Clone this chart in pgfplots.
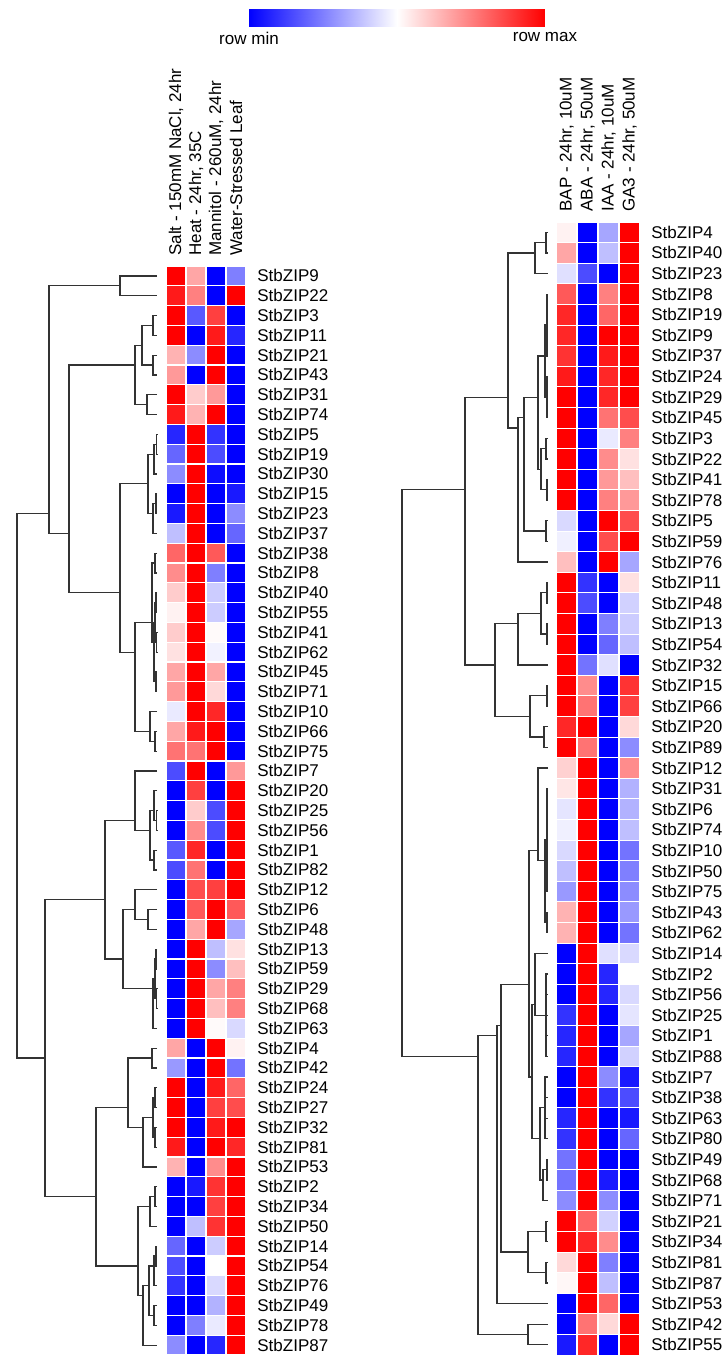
\documentclass[border=0pt]{standalone}
\usepackage{pgfplots}
\usepackage{pgfplotstable}
\pgfplotsset{compat=1.18}
\usepackage{fontspec}
\setmainfont{Liberation Sans}
\pgfplotsset{colormap={bwr}{rgb255=(0,0,255) rgb255=(255,255,255) rgb255=(255,0,0)}}

\pgfplotstableread{
r c1 c2 c3 c4
1 1 0.35 -1 -0.5
2 0.9 0.5 -1 1
3 1 -0.65 0.75 -1
4 1 -1 0.9 -0.85
5 0.3 -0.45 1 -1
6 0.4 -1 1 -1
7 1 0.2 0.4 -1
8 0.9 0.3 1 -1
9 -0.85 1 -0.8 -1
10 -0.6 1 -0.7 -1
11 -0.45 1 -0.95 -1
12 -1 1 -1 -0.9
13 -0.9 1 -1 -0.45
14 -0.25 1 -1 -0.6
15 0.6 1 0.65 -1
16 0.45 1 -0.5 -1
17 0.2 1 -0.2 -1
18 0.05 1 -0.2 -1
19 0.2 1 0.02 -1
20 0.12 1 -0.05 -1
21 0.35 1 0.35 -1
22 0.4 1 0.15 -1
23 -0.08 1 0.85 -1
24 0.35 0.9 1 -1
25 0.55 0.55 1 -1
26 -0.7 1 -1 0.4
27 -1 0.75 -1 1
28 -1 0.2 -0.7 1
29 -1 0.45 -0.7 1
30 -0.65 0.85 -1 1
31 -0.7 0.55 -1 1
32 -1 0.7 0.75 1
33 -1 0.65 1 0.65
34 -1 0.35 1 -0.35
35 -1 1 -0.25 0.12
36 -1 1 -0.45 0.25
37 -1 1 0.35 0.5
38 -1 1 0.25 0.5
39 -1 1 0.02 -0.15
40 0.35 -1 1 0.05
41 -0.4 -1 1 -0.55
42 1 -1 0.9 0.6
43 1 -1 0.75 0.7
44 1 -1 0.9 1
45 0.9 -1 1 0.85
46 0.3 -1 0.45 1
47 -1 -0.9 0.8 1
48 -1 -1 0.75 1
49 -1 -0.25 0.8 1
50 -0.6 -1 -0.2 1
51 -0.7 -1 0 1
52 -0.8 -1 -0.15 1
53 -1 -1 -0.3 1
54 -1 -0.5 -0.08 1
55 -0.45 -1 -0.85 1
}\lefttab

\pgfplotstableread{
r c1 c2 c3 c4
1 0.05 -1 -0.35 1
2 0.35 -1 -0.25 1
3 -0.12 -0.7 -1 1
4 0.65 -1 0.5 1
5 0.85 -1 0.6 1
6 0.85 -1 1 1
7 0.8 -1 0.9 1
8 0.9 -1 0.85 1
9 1 -1 0.85 1
10 1 -1 0.55 0.7
11 1 -1 -0.08 0.5
12 1 -1 0.45 0.12
13 1 -1 0.4 0.25
14 1 -1 0.5 0.4
15 -0.15 -1 1 0.7
16 -0.06 -1 0.7 1
17 0.25 -1 1 -0.35
18 1 -0.8 -1 0.12
19 1 -0.7 -1 -0.18
20 1 -1 -0.5 -0.2
21 1 -1 -0.6 -0.25
22 1 -0.55 -0.12 -1
23 1 0.45 -1 0.8
24 1 0.55 -1 0.75
25 0.85 1 -1 0.15
26 1 0.55 -1 -0.45
27 0.18 1 -1 0.45
28 0.1 1 -1 -0.3
29 -0.1 1 -1 -0.3
30 -0.06 1 -1 -0.25
31 -0.15 1 -1 -0.55
32 -0.25 1 -1 -0.5
33 -0.4 1 -1 -0.45
34 0.3 1 -1 -0.4
35 0.3 1 -1 -0.55
36 -1 1 -0.12 -0.15
37 -1 1 -0.85 0
38 -1 1 -0.85 -0.15
39 -0.8 1 -1 -0.1
40 -0.85 1 -1 -0.35
41 -0.85 1 -1 -0.18
42 -1 1 -0.45 -0.9
43 -1 1 -0.8 -0.7
44 -0.85 1 -1 -0.9
45 -0.8 1 -1 -0.6
46 -0.55 1 -1 -1
47 -0.55 1 -0.9 -1
48 -0.45 1 -0.45 -1
49 1 0.6 -0.18 -1
50 1 0.85 0.45 -1
51 0.15 1 -0.5 -1
52 0.03 1 -0.25 -1
53 -1 1 0.6 -1
54 -1 0.55 0.15 1
55 -0.9 0.85 -1 1
}\righttab

\pgfplotsset{
  heat/.style={
    scale only axis, enlargelimits=false, clip=false,
    xmin=0.5, xmax=4.5, ymin=0.5, ymax=55.5, y dir=reverse,
    point meta min=-1, point meta max=1,
    axis line style={draw=none}, major tick length=0pt, tick style={draw=none},
    xtick={1,2,3,4}, ytick={1,...,55},
    xticklabel pos=upper, yticklabel pos=right,
    ticklabel style={font=\fontsize{8.5}{9}\selectfont},
    xticklabel style={rotate=90, anchor=west, inner sep=0pt},
    xticklabel shift=5pt,
    yticklabel style={anchor=west, inner sep=0pt},
    yticklabel shift=5.5pt,
  },
  cell/.style={scatter, only marks, mark=square*, point meta=explicit,
    scatter/use mapped color={draw=mapped color, fill=mapped color},
    mark options={line width=0pt}},
  dendro/.style={
    scale only axis, enlargelimits=false, clip=false, hide axis,
    ymin=0.5, ymax=55.5, y dir=reverse,
  },
  dline/.style={black!80, line width=0.6pt, unbounded coords=jump, mark=none},
}

\begin{document}
\begin{tikzpicture}
\useasboundingbox (0,0) rectangle (364pt,-678pt);

% ---------- colour scale ----------
\begin{axis}[at={(124.5pt,-4.5pt)}, anchor=north west, scale only axis,
  width=148pt, height=8.5pt, enlargelimits=false,
  xmin=-1, xmax=1, ymin=0, ymax=1,
  point meta min=-1, point meta max=1,
  axis line style={draw=none}, major tick length=0pt, tick style={draw=none},
  xtick={-1,1}, xticklabels={row min, row max}, ytick=\empty,
  xticklabel style={font=\fontsize{8.5}{9}\selectfont, inner sep=0pt, anchor=north},
  xticklabel shift=3pt]
\addplot[surf, shader=interp, mesh/cols=3, point meta=explicit] coordinates {
 (-1,0) [-1] (0,0) [0] (1,0) [1]
 (-1,1) [-1] (0,1) [0] (1,1) [1]
};
\end{axis}

% ---------- left dendrogram ----------
\begin{axis}[dendro, at={(0pt,-133pt)}, anchor=north west,
  width=78.5pt, height=544.5pt, xmin=0, xmax=157]
\addplot[dline] coordinates {
(49,13)(17,13)(17,40.5)(45,40.5)(nan,nan)
(120,1.5)(49,1.5)(49,14)(69,14)(nan,nan)
(157,1)(120,1)(120,2)(157,2)(nan,nan)
(135,5.5)(69,5.5)(69,17)(120,17)(nan,nan)
(142,4.5)(135,4.5)(135,7.5)(147,7.5)(nan,nan)
(153,3.5)(142,3.5)(142,5.5)(153,5.5)(nan,nan)
(157,3)(153,3)(153,4)(157,4)(nan,nan)
(157,5)(153,5)(153,6)(157,6)(nan,nan)
(157,7)(147,7)(147,8)(157,8)(nan,nan)
(148,11.5)(120,11.5)(120,20)(135,20)(nan,nan)
(154,10)(148,10)(148,13)(153,13)(nan,nan)
(156.5,9.5)(154,9.5)(154,11)(157,11)(nan,nan)
(157,9)(156.5,9)(156.5,10)(157,10)(nan,nan)
(156,12.5)(153,12.5)(153,14)(157,14)(nan,nan)
(157,12)(156,12)(156,13)(157,13)(nan,nan)
(152,18.5)(135,18.5)(135,24)(150,24)(nan,nan)
(155,15.5)(152,15.5)(152,19.5)(154,19.5)(nan,nan)
(157,15)(155,15)(155,16)(157,16)(nan,nan)
(155,18.5)(154,18.5)(154,21.5)(156,21.5)(nan,nan)
(156,17.5)(155,17.5)(155,19.5)(156.5,19.5)(nan,nan)
(157,17)(156,17)(156,18)(157,18)(nan,nan)
(157,19)(156.5,19)(156.5,20)(157,20)(nan,nan)
(157,21)(156,21)(156,22)(157,22)(nan,nan)
(157,23)(150,23)(150,24.5)(155,24.5)(nan,nan)
(157,24)(155,24)(155,25)(157,25)(nan,nan)
(105,32.5)(45,32.5)(45,47.5)(96,47.5)(nan,nan)
(135,28.5)(105,28.5)(105,35.5)(123,35.5)(nan,nan)
(157,26)(135,26)(135,29)(150,29)(nan,nan)
(154,28)(150,28)(150,30.5)(154,30.5)(nan,nan)
(157,27)(154,27)(154,28.5)(156.5,28.5)(nan,nan)
(157,28)(156.5,28)(156.5,29)(157,29)(nan,nan)
(157,30)(154,30)(154,31)(157,31)(nan,nan)
(135,33)(123,33)(123,37)(153,37)(nan,nan)
(157,32)(135,32)(135,33.5)(148,33.5)(nan,nan)
(157,33)(148,33)(148,34)(157,34)(nan,nan)
(155,36.5)(153,36.5)(153,39)(157,39)(nan,nan)
(156,35.5)(155,35.5)(155,37.5)(156.5,37.5)(nan,nan)
(157,35)(156,35)(156,36)(157,36)(nan,nan)
(157,37)(156.5,37)(156.5,38)(157,38)(nan,nan)
(128,43)(96,43)(96,51)(138,51)(nan,nan)
(152,40.5)(128,40.5)(128,44)(143,44)(nan,nan)
(157,40)(152,40)(152,41)(157,41)(nan,nan)
(153,43.5)(143,43.5)(143,46)(157,46)(nan,nan)
(155,42.5)(153,42.5)(153,44.5)(155,44.5)(nan,nan)
(157,42)(155,42)(155,43)(157,43)(nan,nan)
(157,44)(155,44)(155,45)(157,45)(nan,nan)
(150,48)(138,48)(138,52.5)(143,52.5)(nan,nan)
(155,47.5)(150,47.5)(150,49)(157,49)(nan,nan)
(157,47)(155,47)(155,48)(157,48)(nan,nan)
(149,52)(143,52)(143,55)(157,55)(nan,nan)
(154,51)(149,51)(149,53.5)(154,53.5)(nan,nan)
(156,50.5)(154,50.5)(154,52)(157,52)(nan,nan)
(157,50)(156,50)(156,51)(157,51)(nan,nan)
(157,53)(154,53)(154,54)(157,54)
};
\end{axis}

% ---------- left heatmap ----------
\begin{axis}[heat, at={(83pt,-133pt)}, anchor=north west,
  width=40pt, height=544.5pt,
  xticklabels={{Salt - 150mM NaCl, 24hr}, {Heat - 24hr, 35C}, {Mannitol - 260uM, 24hr}, {Water-Stressed Leaf}},
  yticklabels={StbZIP9,StbZIP22,StbZIP3,StbZIP11,StbZIP21,StbZIP43,StbZIP31,StbZIP74,StbZIP5,StbZIP19,StbZIP30,StbZIP15,StbZIP23,StbZIP37,StbZIP38,StbZIP8,StbZIP40,StbZIP55,StbZIP41,StbZIP62,StbZIP45,StbZIP71,StbZIP10,StbZIP66,StbZIP75,StbZIP7,StbZIP20,StbZIP25,StbZIP56,StbZIP1,StbZIP82,StbZIP12,StbZIP6,StbZIP48,StbZIP13,StbZIP59,StbZIP29,StbZIP68,StbZIP63,StbZIP4,StbZIP42,StbZIP24,StbZIP27,StbZIP32,StbZIP81,StbZIP53,StbZIP2,StbZIP34,StbZIP50,StbZIP14,StbZIP54,StbZIP76,StbZIP49,StbZIP78,StbZIP87}]
\addplot[cell, mark size=4.4pt] table[x expr=1, y=r, meta=c1] {\lefttab};
\addplot[cell, mark size=4.4pt] table[x expr=2, y=r, meta=c2] {\lefttab};
\addplot[cell, mark size=4.4pt] table[x expr=3, y=r, meta=c3] {\lefttab};
\addplot[cell, mark size=4.4pt] table[x expr=4, y=r, meta=c4] {\lefttab};
\end{axis}

% ---------- right dendrogram ----------
\begin{axis}[dendro, at={(200pt,-111pt)}, anchor=north west,
  width=74pt, height=566.5pt, xmin=400, xmax=548]
\addplot[dline] coordinates {
(465,13.5)(402,13.5)(402,41)(478,41)(nan,nan)
(508,9)(465,9)(465,22)(495,22)(nan,nan)
(535,2)(508,2)(508,10.5)(518,10.5)(nan,nan)
(546,1.5)(535,1.5)(535,3)(548,3)(nan,nan)
(548,1)(546,1)(546,2)(548,2)(nan,nan)
(524,10)(518,10)(518,17)(548,17)(nan,nan)
(538,9)(524,9)(524,15.5)(546,15.5)(nan,nan)
(548,15)(546,15)(546,16)(548,16)(nan,nan)
(545,7)(538,7)(538,12.5)(541,12.5)(nan,nan)
(547,5.5)(545,5.5)(545,9)(547,9)(nan,nan)
(548,4)(547,4)(547,7)(548,7)(nan,nan)
(547,5)(548,5)(nan,nan)(547,6)(548,6)(nan,nan)
(548,8)(547,8)(547,10)(548,10)(nan,nan)
(547,9)(548,9)(nan,nan)
(546,11.5)(541,11.5)(541,13.5)(547,13.5)(nan,nan)
(548,11)(546,11)(546,12)(548,12)(nan,nan)
(548,13)(547,13)(547,14)(548,14)(nan,nan)
(518,20)(495,20)(495,24.5)(530,24.5)(nan,nan)
(541,19.5)(518,19.5)(518,22)(548,22)(nan,nan)
(547,18.5)(541,18.5)(541,20.5)(547,20.5)(nan,nan)
(548,18)(547,18)(547,19)(548,19)(nan,nan)
(548,20)(547,20)(547,21)(548,21)(nan,nan)
(547,23.5)(530,23.5)(530,25.5)(544,25.5)(nan,nan)
(548,23)(547,23)(547,24)(548,24)(nan,nan)
(548,25)(544,25)(544,26)(548,26)(nan,nan)
(497,40)(478,40)(478,54.5)(528,54.5)(nan,nan)
(548,54)(528,54)(528,55)(548,55)(nan,nan)
(501,39.5)(497,39.5)(497,53)(548,53)(nan,nan)
(529,37.5)(501,37.5)(501,50.5)(528,50.5)(nan,nan)
(546,49.5)(528,49.5)(528,51.5)(546,51.5)(nan,nan)
(548,49)(546,49)(546,50)(548,50)(nan,nan)
(548,51)(546,51)(546,52)(548,52)(nan,nan)
(538,31)(529,31)(529,42)(532,42)(nan,nan)
(548,27)(538,27)(538,31.5)(545,31.5)(nan,nan)
(547,30.5)(545,30.5)(545,34.5)(547,34.5)(nan,nan)
(548,28)(547,28)(547,33)(548,33)(nan,nan)
(547,29)(548,29)(nan,nan)(547,30)(548,30)(nan,nan)
(547,31)(548,31)(nan,nan)(547,32)(548,32)(nan,nan)
(548,34)(547,34)(547,35)(548,35)(nan,nan)
(535,38.5)(532,38.5)(532,45)(540,45)(nan,nan)
(548,36)(535,36)(535,39)(546,39)(nan,nan)
(548,37)(546,37)(546,41)(548,41)(nan,nan)
(546,38)(548,38)(nan,nan)(546,39)(548,39)(nan,nan)(546,40)(548,40)(nan,nan)
(545,43.5)(540,43.5)(540,47)(543,47)(nan,nan)
(548,42)(545,42)(545,45)(548,45)(nan,nan)
(545,43)(548,43)(nan,nan)(545,44)(548,44)(nan,nan)
(547,46.5)(543,46.5)(543,48)(548,48)(nan,nan)
(548,46)(547,46)(547,47)(548,47)
};
\end{axis}

% ---------- right heatmap ----------
\begin{axis}[heat, at={(278pt,-111pt)}, anchor=north west,
  width=42pt, height=566.5pt,
  xticklabels={{BAP - 24hr, 10uM}, {ABA - 24hr, 50uM}, {IAA - 24hr, 10uM}, {GA3 - 24hr, 50uM}},
  yticklabels={StbZIP4,StbZIP40,StbZIP23,StbZIP8,StbZIP19,StbZIP9,StbZIP37,StbZIP24,StbZIP29,StbZIP45,StbZIP3,StbZIP22,StbZIP41,StbZIP78,StbZIP5,StbZIP59,StbZIP76,StbZIP11,StbZIP48,StbZIP13,StbZIP54,StbZIP32,StbZIP15,StbZIP66,StbZIP20,StbZIP89,StbZIP12,StbZIP31,StbZIP6,StbZIP74,StbZIP10,StbZIP50,StbZIP75,StbZIP43,StbZIP62,StbZIP14,StbZIP2,StbZIP56,StbZIP25,StbZIP1,StbZIP88,StbZIP7,StbZIP38,StbZIP63,StbZIP80,StbZIP49,StbZIP68,StbZIP71,StbZIP21,StbZIP34,StbZIP81,StbZIP87,StbZIP53,StbZIP42,StbZIP55}]
\addplot[cell, mark size=4.65pt] table[x expr=1, y=r, meta=c1] {\righttab};
\addplot[cell, mark size=4.65pt] table[x expr=2, y=r, meta=c2] {\righttab};
\addplot[cell, mark size=4.65pt] table[x expr=3, y=r, meta=c3] {\righttab};
\addplot[cell, mark size=4.65pt] table[x expr=4, y=r, meta=c4] {\righttab};
\end{axis}
\end{tikzpicture}
\end{document}
